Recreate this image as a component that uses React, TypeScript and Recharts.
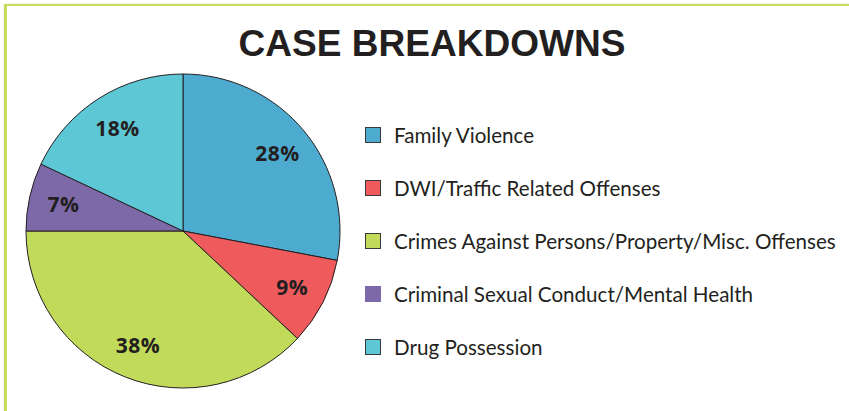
import { PieChart, Pie, Cell } from 'recharts';

// ── Data ────────────────────────────────────────────────────────────
const CATEGORIES = [
  'Family Violence',
  'DWI/Traffic Related Offenses',
  'Crimes Against Persons/Property/Misc. Offenses',
  'Criminal Sexual Conduct/Mental Health',
  'Drug Possession',
];
const SHARES = [28, 9, 38, 7, 18];
const COLORS = ['#4eabd0', '#ef5b5c', '#c2da5a', '#7e69a8', '#5ec7d6'];
const BORDERED = [true, true, true, false, true];

const data = CATEGORIES.map((name, i) => ({ name, value: SHARES[i] }));

const INK = '#231f20';
const RAD = Math.PI / 180;

// ── Slice labels (inside, bold) ─────────────────────────────────────
function renderLabel(props: any) {
  const { cx, cy, midAngle, outerRadius, value } = props;
  const r = outerRadius * 0.78;
  const x = cx + r * Math.cos(-midAngle * RAD);
  const y = cy + r * Math.sin(-midAngle * RAD);
  return (
    <text
      x={x}
      y={y}
      fill={INK}
      textAnchor="middle"
      dominantBaseline="central"
      style={{ fontFamily: '"Open Sans", sans-serif', fontWeight: 700, fontSize: 21, letterSpacing: 0.5 }}
    >
      {`${value}%`}
    </text>
  );
}

// ── Legend ──────────────────────────────────────────────────────────
function LegendList() {
  return (
    <div style={{ fontFamily: 'Lato, sans-serif', fontSize: 20.6, color: INK }}>
      {CATEGORIES.map((name, i) => (
        <div key={name} style={{ display: 'flex', alignItems: 'center', height: 53 }}>
          <div
            style={{
              width: 16,
              height: 16,
              boxSizing: 'border-box',
              background: COLORS[i],
              border: BORDERED[i] ? '1.5px solid #3a3a3a' : 'none',
              marginRight: 13,
            }}
          />
          <span>{name}</span>
        </div>
      ))}
    </div>
  );
}

export default function App() {
  return (
    <div
      style={{
        position: 'absolute',
        left: 0,
        top: 0,
        width: 849,
        height: 411,
        background: '#fff',
        overflow: 'hidden',
      }}
    >
      {/* green frame, top + left */}
      <div
        style={{
          position: 'absolute',
          left: 4,
          top: 4,
          width: 860,
          height: 430,
          borderTop: '2.5px solid #c5de5a',
          borderLeft: '3px solid #c5de5a',
          boxShadow: '0 0 2px rgba(0,0,0,0.12)',
        }}
      />
      <svg width={849} height={70} style={{ position: 'absolute', left: 0, top: 0 }}>
        <text
          x={432}
          y={56}
          textAnchor="middle"
          textLength={387}
          lengthAdjust="spacingAndGlyphs"
          fill={INK}
          style={{ fontFamily: '"Liberation Sans", Arial, sans-serif', fontWeight: 700, fontSize: 37 }}
        >
          CASE BREAKDOWNS
        </text>
      </svg>
      <div style={{ position: 'absolute', left: 0, top: 0 }}>
        <PieChart width={849} height={411} margin={{ top: 0, right: 0, bottom: 0, left: 0 }}>
          <Pie
            data={data}
            dataKey="value"
            nameKey="name"
            cx={183}
            cy={231}
            outerRadius={157}
            startAngle={90}
            endAngle={-270}
            stroke={INK}
            strokeWidth={1}
            label={renderLabel}
            labelLine={false}
            isAnimationActive={false}
          >
            {data.map((_, i) => (
              <Cell key={i} fill={COLORS[i]} />
            ))}
          </Pie>
        </PieChart>
      </div>
      <div style={{ position: 'absolute', left: 365, top: 108, width: 484 }}>
        <LegendList />
      </div>
    </div>
  );
}
